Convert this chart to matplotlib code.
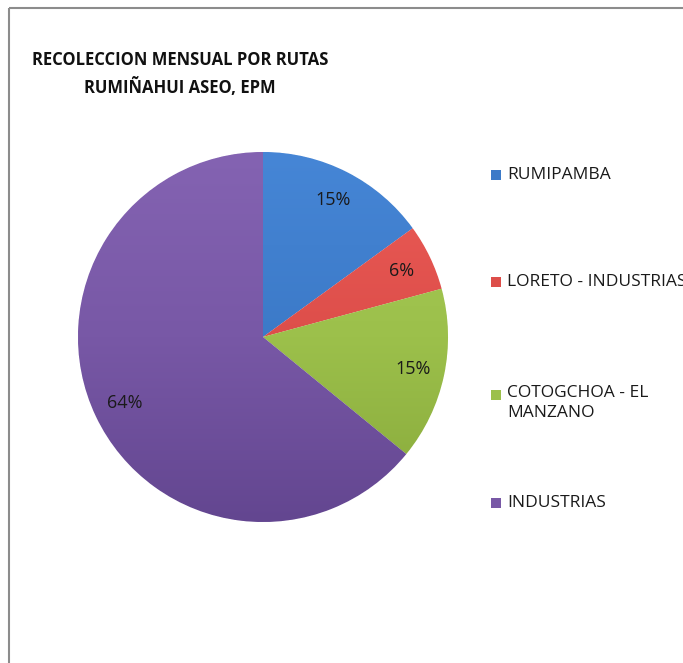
import matplotlib
matplotlib.use("Agg")
import matplotlib.pyplot as plt
import numpy as np
from matplotlib.lines import Line2D
from matplotlib.colors import LinearSegmentedColormap

categories = ["RUMIPAMBA", "LORETO - INDUSTRIAS", "COTOGCHOA - EL\nMANZANO", "INDUSTRIAS"]
values = [15.0, 5.8, 15.1, 64.1]
title = "RECOLECCION MENSUAL POR RUTAS\nRUMIÑAHUI ASEO, EPM"

base_colors = ["#3C7AC8", "#DD4E4A", "#9CC04B", "#7858A6"]
top_colors = ["#4686D6", "#EC5C57", "#A8CC57", "#8463B2"]
bot_colors = ["#3366A8", "#C03C38", "#87A83A", "#634690"]

W, H = 683, 663
fig = plt.figure(figsize=(W / 100, H / 100), dpi=100)
fig.patch.set_facecolor("white")

# chart frame (left and top edges visible)
fig.add_artist(Line2D([9 / W, 9 / W], [0, 1 - 8 / H], transform=fig.transFigure,
                      color="#8C8C8C", lw=1.5, solid_capstyle="butt"))
fig.add_artist(Line2D([9 / W, 1.0], [1 - 8 / H, 1 - 8 / H], transform=fig.transFigure,
                      color="#8C8C8C", lw=1.5, solid_capstyle="butt"))

cx, cy, r = 263, 337, 185
ax = fig.add_axes([(cx - r) / W, (H - cy - r) / H, 2 * r / W, 2 * r / H])

wedges, texts, autotexts = ax.pie(
    values, colors=base_colors, startangle=90, counterclock=False,
    autopct=lambda p: f"{p:.0f}%", pctdistance=0.83,
    wedgeprops=dict(edgecolor="white", linewidth=0.6),
    textprops=dict(fontsize=13, color="#1a1a1a", family="Open Sans"))
ax.set_xlim(-1, 1)
ax.set_ylim(-1, 1)
ax.axis("off")

grad = np.linspace(1, 0, 256).reshape(-1, 1)
for w, c0, c1, c2 in zip(wedges, top_colors, base_colors, bot_colors):
    cmap = LinearSegmentedColormap.from_list("g", [c2, c1, c0])
    im = ax.imshow(grad, extent=(-1, 1, -1, 1), cmap=cmap, aspect="auto",
                   zorder=w.get_zorder() + 0.1, origin="upper", vmin=0, vmax=1)
    im.set_clip_path(w)
for t in autotexts:
    t.set_zorder(5)
ax.set_xlim(-1, 1)
ax.set_ylim(-1, 1)

fig.text(180 / W, 1 - 74 / H, title, ha="center", va="center",
         fontsize=12, fontweight="bold", family="Open Sans", color="#111111",
         linespacing=1.55)

# legend
leg_y = [175, 282, 395, 503]
for y, c, lab in zip(leg_y, base_colors, categories):
    fig.add_artist(plt.Rectangle((491 / W, 1 - (y + 5) / H), 10 / W, 10 / H,
                                 transform=fig.transFigure, facecolor=c,
                                 edgecolor="none"))
    if "\n" in lab:
        fig.text(507 / W, 1 - (y - 10) / H, lab, ha="left", va="top",
                 fontsize=12.5, family="Open Sans", color="#1a1a1a", linespacing=1.3)
    else:
        fig.text(507 / W, 1 - y / H, lab, ha="left", va="center",
                 fontsize=12.5, family="Open Sans", color="#1a1a1a")

fig.savefig("out.png", dpi=100, facecolor="white")
